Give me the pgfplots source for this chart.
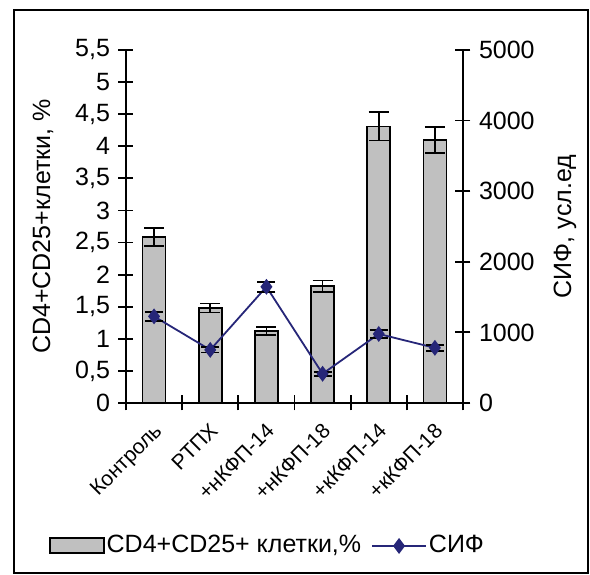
\documentclass[border=0pt]{standalone}
\usepackage{fontspec}
\setmainfont{Liberation Sans}
\usepackage{pgfplots}
\pgfplotsset{compat=1.18}
\definecolor{bargray}{RGB}{192,192,192}
\definecolor{sif}{RGB}{38,38,120}
\begin{document}
\fontsize{25}{29}\selectfont
\begin{tikzpicture}
\begin{axis}[name=ax,
  scale only axis, width=337pt, height=353pt,
  xmin=-0.5, xmax=5.5, ymin=0, ymax=5.5,
  axis y line*=left, axis x line*=bottom,
  axis line style={line width=1.8pt, -},
  every tick/.style={line width=1.8pt, black},
  tick align=center, major tick length=15pt,
  xtick={-0.5,0.5,1.5,2.5,3.5,4.5,5.5}, xticklabels={},
  extra x ticks={0,1,2,3,4,5},
  extra x tick labels={Контроль,РТПХ,+нКФП-14,+нКФП-18,+кКФП-14,+кКФП-18},
  extra x tick style={major tick length=0pt, tick label style={rotate=45, anchor=north east, xshift=-6pt, yshift=-4pt, font=\fontsize{21}{25}\selectfont}},
  ytick={0,0.5,...,5.5},
  /pgf/number format/assume math mode=true,
  yticklabel style={/pgf/number format/.cd, use comma, 1000 sep={}},
  every axis y label/.style={at={(axis description cs:-0.246,0.5)}, rotate=90, anchor=center},
  ylabel={CD4+CD25+клетки, \%},
  legend style={at={(axis description cs:0.42,-0.405)}, anchor=center, draw=none, fill=none, legend columns=2,
    /tikz/every even column/.append style={column sep=8pt}, font=\fontsize{25}{29}\selectfont},
]
\addplot[ybar, bar width=23pt, fill=bargray, draw=black, line width=1.6pt,
  legend image code/.code={\draw[fill=bargray,draw=black,line width=1.6pt] (0pt,-7pt) rectangle (54pt,8pt);},
  error bars/.cd, y dir=both, y explicit,
  error bar style={line width=1.8pt, black},
  error mark options={rotate=90, black, mark size=10pt, line width=1.8pt}]
  coordinates {
  (0,2.59) +- (0,0.14)
  (1,1.48) +- (0,0.07)
  (2,1.12) +- (0,0.06)
  (3,1.82) +- (0,0.09)
  (4,4.31) +- (0,0.22)
  (5,4.10) +- (0,0.20)
  };
\addlegendentry{CD4+CD25+ клетки,\%}
\addlegendimage{sif, line width=1.8pt,
  legend image code/.code={\draw[sif,line width=1.8pt,mark=diamond*,mark size=6.5pt,mark repeat=2,mark phase=2] plot coordinates {(0pt,0pt) (27pt,0pt) (54pt,0pt)};}}
\addlegendentry{СИФ}
\end{axis}
\begin{axis}[
  scale only axis, width=337pt, height=353pt,
  xmin=-0.5, xmax=5.5, ymin=0, ymax=5000,
  axis y line*=right, axis x line=none,
  axis line style={line width=1.8pt, -},
  every tick/.style={line width=1.8pt, black},
  tick align=center, major tick length=15pt,
  ytick={0,1000,...,5000},
  /pgf/number format/assume math mode=true,
  yticklabel style={/pgf/number format/.cd, 1000 sep={}},
  every axis y label/.style={at={(axis description cs:1.303,0.5)}, rotate=90, anchor=center},
  ylabel={СИФ, усл.ед},
]
\addplot[sif, line width=1.8pt, mark=diamond*, mark size=6.5pt,
  error bars/.cd, y dir=both, y explicit,
  error bar style={line width=1.8pt, black},
  error mark options={rotate=90, black, mark size=9pt, line width=1.8pt}]
  coordinates {
  (0,1227) +- (0,63)
  (1,752) +- (0,38)
  (2,1646) +- (0,70)
  (3,414) +- (0,30)
  (4,978) +- (0,56)
  (5,781) +- (0,45)
  };
\end{axis}
\draw[line width=1.8pt] ([shift={(-112pt,-170pt)}]ax.south west) rectangle ([shift={(462pt,393pt)}]ax.south west);
\path ([shift={(-126pt,-172pt)}]ax.south west) -- ([shift={(464pt,403pt)}]ax.south west);
\end{tikzpicture}
\end{document}
